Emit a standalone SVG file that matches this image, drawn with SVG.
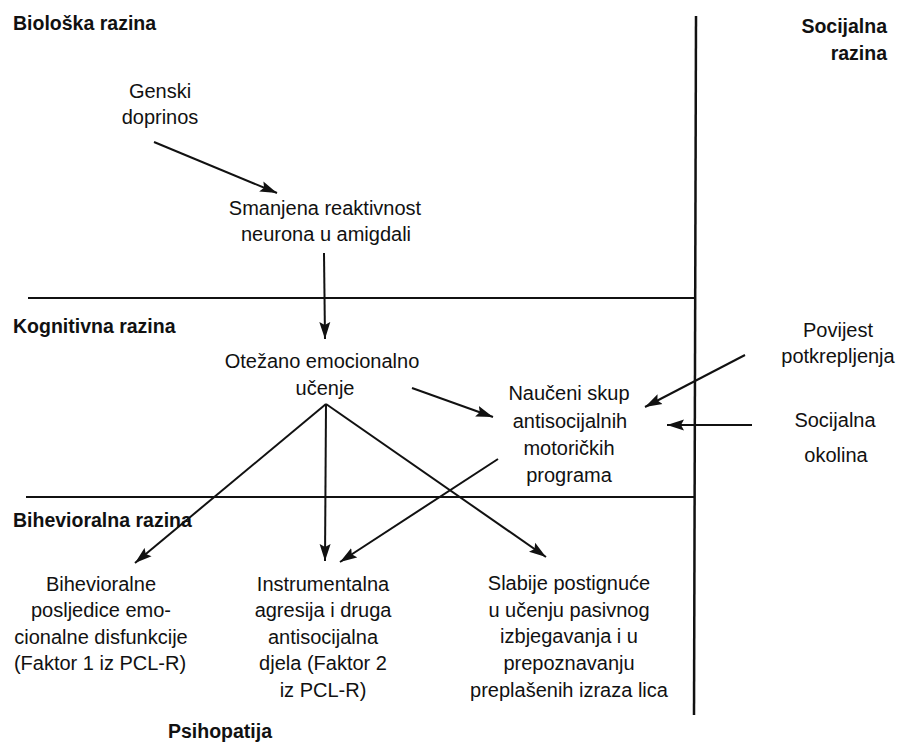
<svg xmlns="http://www.w3.org/2000/svg" width="901" height="742" viewBox="0 0 901 742">
<defs>
<marker id="ah" markerUnits="userSpaceOnUse" markerWidth="18" markerHeight="12" refX="17" refY="6" orient="auto">
<path d="M0,0.5 L17,6 L0,11.5 L3,6 z" fill="#111"/>
</marker>
<style>
text{font-family:"Liberation Sans",Arial,sans-serif;fill:#111;}
.lvl{font-weight:bold;font-size:19.5px;}
.t{font-size:20px;text-anchor:middle;}
.b{stroke:#111;fill:none;}
.c{stroke:#111;stroke-width:2;fill:none;marker-end:url(#ah);}
</style>
</defs>
<rect width="901" height="742" fill="#fff"/>
<g id="frame">
<line class="b" x1="28" y1="298" x2="695" y2="298" stroke-width="1.8"/>
<line class="b" x1="26" y1="497" x2="695" y2="497" stroke-width="1.8"/>
<line class="b" x1="696" y1="16" x2="694" y2="715" stroke-width="2.5"/>
</g>
<g id="levels">
<text class="lvl" x="13" y="30">Biološka razina</text>
<text class="lvl" x="13" y="333">Kognitivna razina</text>
<text class="lvl" x="13" y="527">Bihevioralna razina</text>
<text class="lvl" x="887" y="33" text-anchor="end">Socijalna</text>
<text class="lvl" x="887" y="60" text-anchor="end">razina</text>
<text class="lvl" x="220" y="738" text-anchor="middle">Psihopatija</text>
</g>
<g id="genski"><text class="t" x="160" y="98">Genski</text><text class="t" x="160" y="124">doprinos</text></g>
<g id="smanjena"><text class="t" x="325" y="215">Smanjena reaktivnost</text><text class="t" x="326" y="241">neurona u amigdali</text></g>
<g id="otezano"><text class="t" x="322" y="368">Otežano emocionalno</text><text class="t" x="325" y="395">učenje</text></g>
<g id="nauceni"><text class="t" x="569" y="400">Naučeni skup</text><text class="t" x="570" y="428">antisocijalnih</text><text class="t" x="569" y="455">motoričkih</text><text class="t" x="569" y="482">programa</text></g>
<g id="povijest"><text class="t" x="838" y="337">Povijest</text><text class="t" x="838" y="363">potkrepljenja</text></g>
<g id="okolina"><text class="t" x="835" y="427">Socijalna</text><text class="t" x="836" y="462">okolina</text></g>
<g id="bihev"><text class="t" x="101" y="591">Bihevioralne</text><text class="t" x="101" y="617">posljedice emo-</text><text class="t" x="101" y="644">cionalne disfunkcije</text><text class="t" x="100" y="670">(Faktor 1 iz PCL-R)</text></g>
<g id="instr"><text class="t" x="323" y="591">Instrumentalna</text><text class="t" x="323" y="617">agresija i druga</text><text class="t" x="323" y="644">antisocijalna</text><text class="t" x="323" y="670">djela (Faktor 2</text><text class="t" x="323" y="697">iz PCL-R)</text></g>
<g id="slabije"><text class="t" x="569" y="590">Slabije postignuće</text><text class="t" x="569" y="617">u učenju pasivnog</text><text class="t" x="569" y="643">izbjegavanja i u</text><text class="t" x="569" y="670">prepoznavanju</text><text class="t" x="569" y="697">preplašenih izraza lica</text></g>
<g id="connectors">
<line class="c" x1="154" y1="142" x2="277" y2="193"/>
<line class="c" x1="324" y1="253" x2="325" y2="339"/>
<line class="c" x1="412" y1="388" x2="493" y2="417"/>
<line class="c" x1="745" y1="355" x2="645" y2="407"/>
<line class="c" x1="752" y1="425" x2="667" y2="425"/>
<line class="c" x1="326" y1="404" x2="135" y2="563"/>
<line class="c" x1="326" y1="404" x2="325" y2="561"/>
<line class="c" x1="326" y1="404" x2="546" y2="557"/>
<line class="c" x1="498" y1="459" x2="340" y2="562"/>
</g>
</svg>
